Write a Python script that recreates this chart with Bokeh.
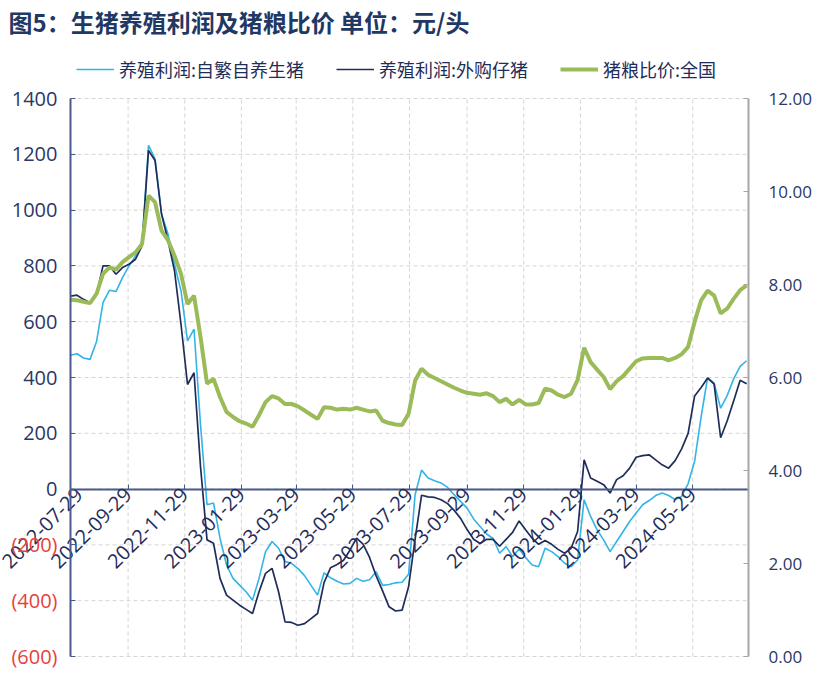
import math
import pandas as pd
from bokeh.plotting import figure
from bokeh.models import (ColumnDataSource, Range1d, LinearAxis, DatetimeAxis, FixedTicker,
                          DatetimeTickFormatter, NumeralTickFormatter, Legend, LegendItem, Label)
from bokeh.embed import file_html
from bokeh.resources import INLINE

# ---------------- data ----------------
first_week = "2022-07-29"
n_weeks = 105
dates = pd.date_range(first_week, periods=n_weeks, freq="7D")

# 养殖利润:自繁自养生猪 (元/头)
self_bred = [480, 485, 470, 465, 528, 668, 713, 708, 758, 800,
             836, 878, 1232, 1184, 986, 914, 806, 710, 531, 573,
             230, -56, -50, -176, -272, -320, -344, -368, -398, -320,
             -224, -188, -212, -260, -266, -285, -310, -345, -380, -300,
             -318, -330, -340, -338, -320, -330, -325, -296, -345, -342,
             -336, -334, -305, -20, 68, 40, 30, 22, 6, -20,
             -44, -68, -107, -134, -161, -177, -230, -206, -242, -215,
             -245, -272, -278, -212, -224, -242, -266, -278, -254, -38,
             -98, -146, -182, -224, -188, -152, -116, -86, -56, -41,
             -23, -14, -23, -38, -26, 20, 100, 260, 400, 380,
             290, 335, 395, 440, 460]

# 养殖利润:外购仔猪 (元/头)
purchased = [692, 695, 680, 668, 698, 800, 800, 770, 794, 806,
             824, 872, 1214, 1178, 986, 890, 782, 590, 375, 417,
             80, -182, -194, -320, -380, -398, -416, -431, -446, -368,
             -302, -284, -368, -476, -478, -488, -482, -464, -446, -335,
             -282, -270, -255, -218, -176, -197, -245, -310, -365, -422,
             -437, -434, -350, -180, -22, -28, -30, -38, -52, -76,
             -105, -145, -180, -195, -180, -180, -205, -180, -155, -114,
             -146, -176, -198, -184, -198, -216, -230, -212, -152, 105,
             40, 28, 16, -14, 34, 48, 75, 114, 120, 123,
             105, 87, 75, 102, 144, 200, 334, 364, 398, 376,
             184, 244, 316, 390, 378]

# 猪粮比价:全国
hog_grain_ratio = [7.67, 7.66, 7.63, 7.60, 7.80, 8.23, 8.37, 8.32, 8.48, 8.59,
                   8.69, 8.87, 9.91, 9.77, 9.16, 8.95, 8.62, 8.23, 7.58, 7.76,
                   6.87, 5.87, 5.97, 5.58, 5.26, 5.15, 5.06, 5.01, 4.94, 5.19,
                   5.47, 5.60, 5.55, 5.43, 5.43, 5.38, 5.29, 5.20, 5.11, 5.36,
                   5.35, 5.31, 5.33, 5.31, 5.35, 5.31, 5.27, 5.29, 5.07, 5.02,
                   4.99, 4.98, 5.22, 5.93, 6.19, 6.06, 5.99, 5.92, 5.85, 5.78,
                   5.72, 5.67, 5.65, 5.63, 5.66, 5.60, 5.47, 5.54, 5.42, 5.52,
                   5.42, 5.42, 5.45, 5.76, 5.72, 5.63, 5.58, 5.65, 5.95, 6.64,
                   6.33, 6.17, 6.01, 5.75, 5.92, 6.03, 6.19, 6.35, 6.41, 6.42,
                   6.42, 6.42, 6.37, 6.42, 6.50, 6.66, 7.20, 7.66, 7.87, 7.76,
                   7.38, 7.48, 7.69, 7.88, 7.98]

x_tick_labels = ["2022-07-29", "2022-09-29", "2022-11-29", "2023-01-29", "2023-03-29",
                 "2023-05-29", "2023-07-29", "2023-09-29", "2023-11-29", "2024-01-29",
                 "2024-03-29", "2024-05-29"]
left_ticks = [-600, -400, -200, 0, 200, 400, 600, 800, 1000, 1200, 1400]
neg_ticks = [-600, -400, -200]
neg_labels = ["(600)", "(400)", "(200)"]
right_ticks = [0, 2, 4, 6, 8, 10, 12]

series_names = ["养殖利润:自繁自养生猪", "养殖利润:外购仔猪", "猪粮比价:全国"]
title_text = "图5：生猪养殖利润及猪粮比价 单位：元/头"

# ---------------- layout constants ----------------
W, H = 831, 699                      # whole canvas (frame covers it)
PL, PR, PT, PB = 70, 748, 98, 656    # plotting-area box inside the canvas
Y_MIN, Y_MAX = -600, 1400
R_MIN, R_MAX = 0, 12

x_start = pd.Timestamp("2022-07-29")
x_end = pd.Timestamp("2024-07-28")
x_start_ms = x_start.value / 1e6
x_end_ms = x_end.value / 1e6
x_tick_ms = [pd.Timestamp(s).value / 1e6 for s in x_tick_labels]

ms_per_px = (x_end_ms - x_start_ms) / (PR - PL)
y_per_px = (Y_MAX - Y_MIN) / (PB - PT)
r_per_px = (R_MAX - R_MIN) / (PB - PT)

NAVY = "#1F2D5A"
AXIS_NAVY = "#4A5A8C"
LABEL_NAVY = "#2B3865"
LBLUE = "#33B4E6"
GREEN = "#9BBB59"
RED = "#E8413C"
GRID = "#D4D4D4"
NUM_FONT = "Open Sans"
CJK_FONT = "Noto Sans CJK SC"

src = ColumnDataSource(dict(date=dates, self_bred=self_bred, purchased=purchased, ratio=hog_grain_ratio))

p = figure(width=W, height=H,
           x_range=Range1d(x_start_ms - PL * ms_per_px, x_end_ms + (W - PR) * ms_per_px),
           y_range=Range1d(Y_MIN - (H - PB) * y_per_px, Y_MAX + PT * y_per_px),
           x_axis_type=None, y_axis_type=None, title_location=None,
           output_backend="svg", toolbar_location=None,
           min_border=0, min_border_left=0, min_border_right=0, min_border_top=0, min_border_bottom=0)
p.extra_y_ranges = {"ratio": Range1d(R_MIN - (H - PB) * r_per_px, R_MAX + PT * r_per_px)}
p.outline_line_color = None
p.background_fill_color = "white"
p.border_fill_color = "white"
p.xgrid.visible = False
p.ygrid.visible = False

# dashed grid lines limited to the plotting area
p.segment(x0=[x_start_ms] * len(left_ticks), x1=[x_end_ms] * len(left_ticks), y0=left_ticks, y1=left_ticks,
          line_color=GRID, line_dash="4 3", line_width=1, level="underlay")
p.segment(x0=x_tick_ms, x1=x_tick_ms, y0=[Y_MIN] * len(x_tick_ms), y1=[Y_MAX] * len(x_tick_ms),
          line_color=GRID, line_dash="4 3", line_width=1, level="underlay")

# left axis (positive labels in navy)
yaxis = LinearAxis(ticker=FixedTicker(ticks=left_ticks), fixed_location=x_start_ms, bounds=(Y_MIN, Y_MAX),
                   major_label_overrides={t: "" for t in neg_ticks},
                   axis_line_color=AXIS_NAVY, axis_line_width=2,
                   major_tick_line_color=AXIS_NAVY, major_tick_in=5, major_tick_out=0,
                   minor_tick_line_color=None,
                   major_label_text_color=LABEL_NAVY, major_label_text_font=NUM_FONT,
                   major_label_text_font_size="20px", major_label_standoff=13)
p.add_layout(yaxis, "left")

# left axis (negative labels in red, with parentheses)
yaxis_neg = LinearAxis(ticker=FixedTicker(ticks=neg_ticks), fixed_location=x_start_ms,
                       major_label_overrides=dict(zip(neg_ticks, neg_labels)),
                       axis_line_color=None, major_tick_line_color=None, minor_tick_line_color=None,
                       major_tick_in=5, major_tick_out=0,
                       major_label_text_color=RED, major_label_text_font=NUM_FONT,
                       major_label_text_font_size="20px", major_label_standoff=13)
p.add_layout(yaxis_neg, "left")

# right axis
raxis = LinearAxis(y_range_name="ratio", ticker=FixedTicker(ticks=right_ticks),
                   fixed_location=x_end_ms, bounds=(R_MIN, R_MAX),
                   formatter=NumeralTickFormatter(format="0.00"),
                   axis_line_color="#A6A6A6", axis_line_width=2,
                   major_tick_line_color="#A6A6A6", major_tick_in=5, major_tick_out=0,
                   minor_tick_line_color=None,
                   major_label_text_color=LABEL_NAVY, major_label_text_font=NUM_FONT,
                   major_label_text_font_size="17px", major_label_standoff=20)
p.add_layout(raxis, "right")

# x axis crossing at 0
fmt = "%Y-%m-%d"
xaxis = DatetimeAxis(ticker=FixedTicker(ticks=x_tick_ms), fixed_location=0, bounds=(x_start_ms, x_end_ms),
                     formatter=DatetimeTickFormatter(milliseconds=fmt, seconds=fmt, minsec=fmt, minutes=fmt,
                                                     hourmin=fmt, hours=fmt, days=fmt, months=fmt, years=fmt),
                     axis_line_color=AXIS_NAVY, axis_line_width=2,
                     major_tick_line_color=AXIS_NAVY, major_tick_in=5, major_tick_out=0,
                     minor_tick_line_color=None,
                     major_label_orientation=math.pi / 4,
                     major_label_text_color=NAVY, major_label_text_font=NUM_FONT,
                     major_label_text_font_size="20px", major_label_standoff=2)
p.add_layout(xaxis, "below")

# lines
r1 = p.line("date", "self_bred", source=src, line_color=LBLUE, line_width=1.6)
r2 = p.line("date", "purchased", source=src, line_color=NAVY, line_width=1.7)
r3 = p.line("date", "ratio", source=src, y_range_name="ratio", line_color=GREEN, line_width=4)

# legend above the plotting area (screen offsets from the canvas' bottom-left)
legend = Legend(items=[LegendItem(label=series_names[0], renderers=[r1]),
                       LegendItem(label=series_names[1], renderers=[r2]),
                       LegendItem(label=series_names[2], renderers=[r3])],
                orientation="horizontal", location=(76, H - 82),
                border_line_color=None, background_fill_alpha=0,
                label_text_font=CJK_FONT, label_text_font_size="18px", label_text_color=NAVY,
                glyph_width=38, glyph_height=20, label_height=20,
                label_standoff=5, spacing=32, padding=4, margin=0)
p.add_layout(legend, "center")

# title
p.add_layout(Label(x=8, y=H - 21, x_units="screen", y_units="screen", text=title_text,
                   text_align="left", text_baseline="middle",
                   text_font=CJK_FONT, text_font_size="24px", text_font_style="bold",
                   text_color="#1F3864"))

html = file_html(p, INLINE)
open("out.html", "w").write(html)
